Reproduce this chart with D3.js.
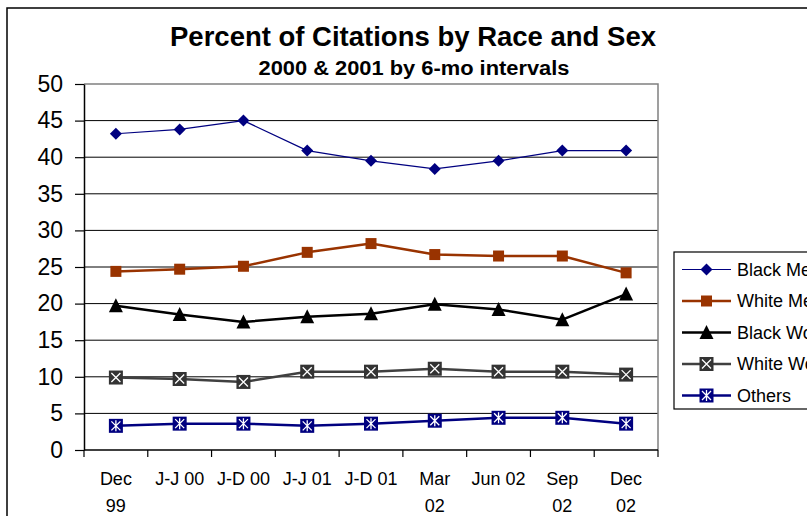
<!DOCTYPE html>
<html lang="en">
<head>
<meta charset="UTF-8">
<title>Percent of Citations by Race and Sex</title>
<script src="https://d3js.org/d3.v7.min.js"></script>
<style>
    body { margin: 0; background: #fff; }
    svg { display: block; font-family: "Liberation Sans", Arial, sans-serif; }
    .title { font-weight: bold; font-size: 27.5px; text-anchor: middle; }
    .subtitle { font-weight: bold; font-size: 20px; text-anchor: middle; }
    .ylab { font-size: 23px; }
    .xlab { font-size: 18px; text-anchor: middle; }
    .legtext { font-size: 18px; }
</style>
</head>
<body>
<svg width="807" height="516"></svg>
<script>
// categories (two-line labels are split on "|")
const categories = ["Dec|99", "J-J 00", "J-D 00", "J-J 01", "J-D 01", "Mar|02", "Jun 02", "Sep|02", "Dec|02"];
const yTicks = [0, 5, 10, 15, 20, 25, 30, 35, 40, 45, 50];

// percent of citations
const blackMen   = [43.2, 43.8, 45.0, 40.9, 39.5, 38.4, 39.5, 40.9, 40.9];
const whiteMen   = [24.4, 24.7, 25.1, 27.0, 28.2, 26.7, 26.5, 26.5, 24.2];
const blackWomen = [19.7, 18.5, 17.5, 18.2, 18.6, 19.9, 19.2, 17.8, 21.3];
const whiteWomen = [9.9, 9.7, 9.3, 10.7, 10.7, 11.1, 10.7, 10.7, 10.3];
const others     = [3.3, 3.6, 3.6, 3.3, 3.6, 4.0, 4.4, 4.4, 3.6];

const seriesNames = ["Black Men", "White Men", "Black Women", "White Women", "Others"];

const series = [
    {name: seriesNames[0], values: blackMen,   color: "#000080", width: 1.2, marker: "diamond"},
    {name: seriesNames[1], values: whiteMen,   color: "#993300", width: 2.5, marker: "square"},
    {name: seriesNames[2], values: blackWomen, color: "#000000", width: 2.5, marker: "triangle"},
    {name: seriesNames[3], values: whiteWomen, color: "#404040", width: 2.5, marker: "xbox"},
    {name: seriesNames[4], values: others,     color: "#000080", width: 2.5, marker: "starbox"}
];

const svg = d3.select("svg");

// outer chart border
svg.append("rect")
    .attr("x", 7).attr("y", 8)
    .attr("width", 900).attr("height", 600)
    .attr("fill", "none")
    .attr("stroke", "#000")
    .attr("stroke-width", 1.5);

const plot = {left: 84, right: 658, top: 84, bottom: 450};

const x = d3.scaleBand()
    .domain(categories)
    .range([plot.left, plot.right]);

const y = d3.scaleLinear()
    .domain([0, 50])
    .range([plot.bottom, plot.top]);

// title
svg.append("text")
    .attr("class", "title")
    .attr("x", 413).attr("y", 46)
    .text("Percent of Citations by Race and Sex");

svg.append("text")
    .attr("class", "subtitle")
    .attr("x", 414).attr("y", 75)
    .attr("textLength", 311)
    .attr("lengthAdjust", "spacingAndGlyphs")
    .text("2000 & 2001 by 6-mo intervals");

// gridlines
svg.append("g")
    .selectAll("line")
    .data(yTicks.filter(d => d > 0 && d < 50))
    .join("line")
    .attr("x1", plot.left).attr("x2", plot.right)
    .attr("y1", d => y(d)).attr("y2", d => y(d))
    .attr("stroke", "#000")
    .attr("stroke-width", 1);

// plot area border (top/right grey)
svg.append("path")
    .attr("d", `M${plot.left},${y(50)}H${plot.right}V${plot.bottom}`)
    .attr("fill", "none")
    .attr("stroke", "#808080")
    .attr("stroke-width", 1.5);

// y axis
const yAxis = svg.append("g")
    .attr("transform", `translate(${plot.left},0)`)
    .call(d3.axisLeft(y).tickValues(yTicks).tickSize(9).tickPadding(12).tickSizeOuter(0));
yAxis.select(".domain").attr("stroke", "#000").attr("stroke-width", 1.5);
yAxis.selectAll(".tick line").attr("stroke", "#000").attr("stroke-width", 1.2);
yAxis.selectAll(".tick text")
    .attr("class", "ylab")
    .attr("fill", "#000");
yAxis.attr("font-size", null).attr("font-family", null);

// x axis line and ticks at category boundaries
const xBounds = categories.map(c => x(c)).concat([x.range()[1]]);
svg.append("line")
    .attr("x1", plot.left).attr("x2", plot.right)
    .attr("y1", plot.bottom).attr("y2", plot.bottom)
    .attr("stroke", "#000").attr("stroke-width", 1.5);
svg.append("g")
    .selectAll("line")
    .data(xBounds)
    .join("line")
    .attr("x1", d => d).attr("x2", d => d)
    .attr("y1", plot.bottom).attr("y2", plot.bottom + 7)
    .attr("stroke", "#000").attr("stroke-width", 1.2);

// x labels
const xl = svg.append("g")
    .selectAll("text")
    .data(categories)
    .join("text")
    .attr("class", "xlab")
    .attr("x", d => x(d) + x.bandwidth() / 2)
    .attr("y", 485);
xl.selectAll("tspan")
    .data(d => d.split("|").map(t => ({t, cx: x(d) + x.bandwidth() / 2})))
    .join("tspan")
    .attr("x", d => d.cx)
    .attr("dy", (d, i) => i === 0 ? 0 : 26.5)
    .text(d => d.t);

// marker drawing
function drawMarker(g, type, color) {
    if (type === "diamond") {
        g.append("path").attr("d", "M0,-6L6,0L0,6L-6,0Z").attr("fill", color);
    } else if (type === "square") {
        g.append("rect").attr("x", -5.5).attr("y", -5.5).attr("width", 11).attr("height", 11).attr("fill", color);
    } else if (type === "triangle") {
        g.append("path").attr("d", "M0,-7.5L7,6.5L-7,6.5Z").attr("fill", color);
    } else if (type === "xbox") {
        g.append("rect").attr("x", -7).attr("y", -7).attr("width", 14).attr("height", 14).attr("fill", "#333333");
        g.append("path").attr("d", "M-4.5,-4.5L4.5,4.5M4.5,-4.5L-4.5,4.5")
            .attr("stroke", "#fff").attr("stroke-width", 1.3);
    } else if (type === "starbox") {
        g.append("rect").attr("x", -7).attr("y", -7).attr("width", 14).attr("height", 14).attr("fill", color);
        g.append("path").attr("d", "M-4.5,-4.5L4.5,4.5M4.5,-4.5L-4.5,4.5M0,-5.5V5.5")
            .attr("stroke", "#fff").attr("stroke-width", 1.3);
    }
}

const line = d3.line()
    .x((d, i) => x(categories[i]) + x.bandwidth() / 2)
    .y(d => y(d));

// series lines
series.forEach(s => {
    svg.append("path")
        .datum(s.values)
        .attr("d", line)
        .attr("fill", "none")
        .attr("stroke", s.color)
        .attr("stroke-width", s.width)
        .attr("stroke-linejoin", "round");
});

// series markers
series.forEach(s => {
    svg.append("g")
        .selectAll("g")
        .data(s.values)
        .join("g")
        .attr("transform", (d, i) => `translate(${x(categories[i]) + x.bandwidth() / 2},${y(d)})`)
        .each(function () { drawMarker(d3.select(this), s.marker, s.color); });
});

// legend (box runs off the right edge, as in the original)
const legend = svg.append("g").attr("transform", "translate(674,252)");
legend.append("rect")
    .attr("width", 200).attr("height", 157)
    .attr("fill", "#fff")
    .attr("stroke", "#000")
    .attr("stroke-width", 1.2);

const legRow = legend.selectAll("g.row")
    .data(series)
    .join("g")
    .attr("class", "row")
    .attr("transform", (d, i) => `translate(0,${17.5 + i * 31.5})`);
legRow.append("line")
    .attr("x1", 8).attr("x2", 57)
    .attr("stroke", d => d.color)
    .attr("stroke-width", d => d.width);
legRow.append("g")
    .attr("transform", "translate(32.5,0)")
    .each(function (d) { drawMarker(d3.select(this), d.marker, d.color); });
legRow.append("text")
    .attr("class", "legtext")
    .attr("x", 63)
    .attr("dy", "0.35em")
    .text(d => d.name);
</script>
</body>
</html>
